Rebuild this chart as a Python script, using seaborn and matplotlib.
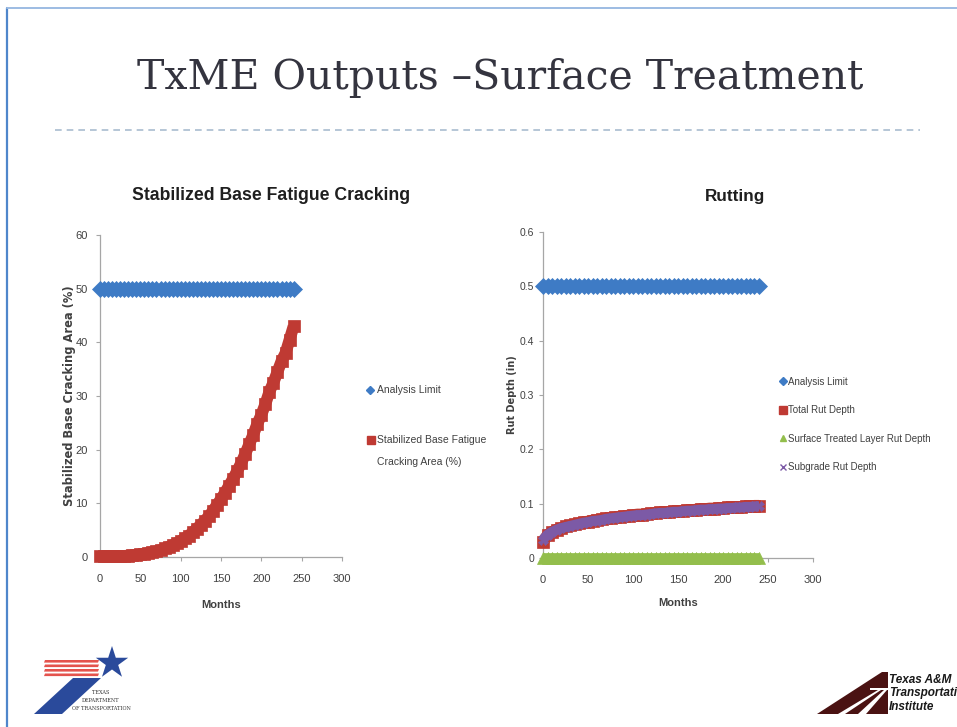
import numpy as np
import pandas as pd
import matplotlib
matplotlib.use("Agg")
import matplotlib.pyplot as plt
import seaborn as sns
from matplotlib.lines import Line2D
from matplotlib.patches import Polygon, Rectangle
from matplotlib.ticker import FuncFormatter

# ---------------- data ----------------
months = list(range(0, 241, 5))

analysis_limit_cracking = [50] * len(months)
stabilized_base_cracking = [
    0.1, 0.1, 0.1, 0.1, 0.1, 0.15, 0.2, 0.25, 0.3, 0.4,
    0.5, 0.6, 0.8, 0.9, 1.1, 1.3, 1.6, 1.9, 2.2, 2.6,
    3.0, 3.5, 4.0, 4.6, 5.3, 6.0, 6.8, 7.6, 8.6, 9.7,
    10.8, 12.0, 13.3, 14.6, 16.0, 17.5, 19.2, 21.0, 22.8, 24.8,
    26.5, 28.5, 30.8, 32.5, 34.5, 36.5, 38.0, 40.5, 43.0]

analysis_limit_rut = [0.5] * len(months)
total_rut_depth = [
    0.030, 0.042, 0.048, 0.052, 0.055, 0.058, 0.060, 0.062, 0.064, 0.066,
    0.067, 0.069, 0.070, 0.071, 0.073, 0.074, 0.075, 0.076, 0.077, 0.078,
    0.079, 0.080, 0.080, 0.081, 0.082, 0.083, 0.084, 0.084, 0.085, 0.086,
    0.086, 0.087, 0.088, 0.088, 0.089, 0.090, 0.090, 0.091, 0.091, 0.092,
    0.092, 0.093, 0.093, 0.094, 0.094, 0.095, 0.095, 0.096, 0.096]
surface_layer_rut_depth = [0.0] * len(months)
subgrade_rut_depth = [
    0.034, 0.043, 0.048, 0.052, 0.055, 0.057, 0.059, 0.061, 0.063, 0.065,
    0.066, 0.068, 0.069, 0.070, 0.072, 0.073, 0.074, 0.075, 0.076, 0.077,
    0.078, 0.079, 0.079, 0.080, 0.081, 0.082, 0.083, 0.083, 0.084, 0.085,
    0.085, 0.086, 0.087, 0.087, 0.088, 0.089, 0.089, 0.090, 0.090, 0.091,
    0.091, 0.092, 0.092, 0.093, 0.093, 0.094, 0.094, 0.095, 0.095]

x_ticks = [0, 50, 100, 150, 200, 250, 300]
y_ticks_left = [0, 10, 20, 30, 40, 50, 60]
y_ticks_right = [0, 0.1, 0.2, 0.3, 0.4, 0.5, 0.6]

# ---------------- style ----------------
sns.set_style("ticks")
plt.rcParams["font.family"] = ["Liberation Sans", "DejaVu Sans"]

BLUE = "#3E7BC5"
RED = "#BF3A33"
GREEN = "#93BE4C"
PURPLE = "#7C5AA6"
AXIS_GRAY = "#A6A6A6"
TXT = "#404040"

W, H = 957, 727
fig = plt.figure(figsize=(W / 100, H / 100), dpi=100)
fig.patch.set_facecolor("white")


def px_axes(l, t, r, b):
    return fig.add_axes([l / W, 1 - b / H, (r - l) / W, (b - t) / H])


# background decoration axes in pixel coordinates
bg = fig.add_axes([0, 0, 1, 1], zorder=-5)
bg.set_xlim(0, W)
bg.set_ylim(H, 0)
bg.axis("off")
bg.plot([7, 7], [8, H], color="#4F86CB", lw=1.6)
bg.plot([7, W], [8, 8], color="#9DBCE3", lw=1.4)
bg.plot([55, 920], [130, 130], color="#A9BCCF", lw=1.2, ls=(0, (4, 3)))

fig.text(500 / W, 1 - 78 / H, "TxME Outputs \u2013Surface Treatment",
         family=["DejaVu Serif"], fontsize=29.5, color="#34343F",
         ha="center", va="center")


def style_axes(ax, yticks, ymax, yfmt, ylabelsize=8, ypad=6):
    ax.set_xlim(0, 300)
    ax.set_ylim(0, ymax)
    ax.set_xticks(x_ticks)
    ax.set_yticks(yticks)
    ax.yaxis.set_major_formatter(FuncFormatter(yfmt))
    sns.despine(ax=ax)
    for s in ("left", "bottom"):
        ax.spines[s].set_color(AXIS_GRAY)
        ax.spines[s].set_linewidth(0.9)
    ax.tick_params(axis="both", length=3, width=0.8, color=AXIS_GRAY,
                   labelsize=8, labelcolor=TXT)
    ax.tick_params(axis="x", pad=9)
    ax.tick_params(axis="y", pad=ypad, labelsize=ylabelsize)
    ax.set_facecolor("none")


def band(ax, df, col, color, marker, lw, ms, z):
    sns.lineplot(data=df, x="Months", y=col, color=color, linewidth=lw,
                 marker=marker, markersize=ms, markeredgecolor=color,
                 markeredgewidth=0.5, solid_capstyle="butt", ax=ax,
                 legend=False, clip_on=False, zorder=z)


# ---------------- left chart ----------------
axL = px_axes(100, 235, 342, 557)
df_l = pd.DataFrame({"Months": months, "limit": analysis_limit_cracking,
                     "crack": stabilized_base_cracking})
band(axL, df_l, "limit", BLUE, "D", 7.2, 8, 3)
band(axL, df_l, "crack", RED, "s", 8.5, 8, 4)
style_axes(axL, y_ticks_left, 60, lambda v, p: f"{v:.0f}")
axL.set_xlabel("Months", fontsize=8, fontweight="bold", color=TXT)
axL.xaxis.set_label_coords(0.5, -(600 - 557) / 322)
axL.set_ylabel("Stabilized Base Cracking Area (%)", family=["DejaVu Sans"],
               fontsize=8.3, fontweight="bold", color=TXT)
axL.yaxis.set_label_coords(-(100 - 75.5) / 242, 0.5)
fig.text(271 / W, 1 - 196 / H, "Stabilized Base Fatigue Cracking",
         fontsize=12.7, fontweight="bold", color="#1F1F1F", ha="center", va="center")

# left legend (marker aligned with first line of the wrapped label)
bg.plot([370], [390], marker="D", ls="", color=BLUE, markersize=4.5)
bg.text(377, 390, "Analysis Limit", fontsize=7.5, color=TXT, va="center", ha="left")
bg.plot([370.5], [440], marker="s", ls="", color=RED, markersize=6)
bg.text(377, 440, "Stabilized Base Fatigue", fontsize=7.5, color=TXT,
        va="center", ha="left")
bg.text(377, 462, "Cracking Area (%)", fontsize=7.5, color=TXT,
        va="center", ha="left")

# ---------------- right chart ----------------
axR = px_axes(543, 232, 813, 558)
df_r = pd.DataFrame({"Months": months, "limit": analysis_limit_rut,
                     "total": total_rut_depth, "surface": surface_layer_rut_depth,
                     "subgrade": subgrade_rut_depth})
band(axR, df_r, "limit", BLUE, "D", 7.5, 8.5, 3)
band(axR, df_r, "total", RED, "s", 8.5, 8, 4)
band(axR, df_r, "surface", GREEN, "^", 7.0, 8, 4)
band(axR, df_r, "subgrade", PURPLE, "X", 7.2, 7, 5)
style_axes(axR, y_ticks_right, 0.6,
           lambda v, p: "0" if abs(v) < 1e-9 else f"{v:.1f}",
           ylabelsize=7.5, ypad=3.5)
axR.set_xlabel("Months", fontsize=8, fontweight="bold", color=TXT)
axR.xaxis.set_label_coords(0.5, -(598 - 558) / 326)
axR.set_ylabel("Rut Depth (in)", family=["DejaVu Sans"], fontsize=7,
               fontweight="bold", color=TXT)
axR.yaxis.set_label_coords(-(543 - 517) / 270, 0.5)
fig.text(735 / W, 1 - 196 / H, "Rutting", fontsize=12.3, fontweight="bold",
         color="#1F1F1F", ha="center", va="center")

hR = [Line2D([], [], marker="D", ls="", color=BLUE, markersize=4),
      Line2D([], [], marker="s", ls="", color=RED, markersize=5.5),
      Line2D([], [], marker="^", ls="", color=GREEN, markersize=5),
      Line2D([], [], marker="x", ls="", color=PURPLE, markersize=5)]
axR.legend(hR, ["Analysis Limit", "Total Rut Depth",
                "Surface Treated Layer Rut Depth", "Subgrade Rut Depth"],
           loc="upper left", bbox_to_anchor=(776 / W, 1 - 373 / H),
           bbox_transform=fig.transFigure, frameon=False, fontsize=7,
           handlelength=0.6, handletextpad=0.2, labelspacing=1.9,
           borderaxespad=0, labelcolor=TXT)

# ---------------- logos (approximate) ----------------
# TxDOT
for i, yy in enumerate([660, 664.5, 669, 673.5]):
    bg.add_patch(Polygon([[45, yy], [99, yy], [98, yy + 2.6], [44, yy + 2.6]],
                         closed=True, color="#E0352E", lw=0, alpha=0.85))
bg.add_patch(Polygon([[73, 678], [101, 678], [62, 714], [34, 714]],
                     closed=True, color="#2A4A9B", lw=0))
ang = np.linspace(np.pi / 2, np.pi / 2 + 2 * np.pi, 11)[:-1]
rad = np.where(np.arange(10) % 2 == 0, 17, 6.5)
star = np.column_stack([112 + rad * np.cos(ang), 663 - rad * np.sin(ang)])
bg.add_patch(Polygon(star, closed=True, color="#2A4A9B", lw=0))
for yy, t in [(693, "TEXAS"), (701, "DEPARTMENT"), (709, "OF TRANSPORTATION")]:
    bg.text(101, yy, t, family=["DejaVu Serif"],
            fontsize=3.6, color="#333333", va="center", ha="center")

# TTI
bg.add_patch(Polygon([[817, 714], [882, 672], [888, 672], [888, 714]],
                     closed=True, color="#4A1212", lw=0))
bg.add_patch(Polygon([[838, 714], [878, 690], [881, 690], [845, 714]],
                     closed=True, color="white", lw=0))
bg.add_patch(Polygon([[858, 714], [884, 690], [887, 690], [866, 714]],
                     closed=True, color="white", lw=0))
bg.add_patch(Rectangle((870, 688), 18, 2.2, color="white", lw=0))
for yy, t in [(680, "Texas A&M"), (693, "Transportation"), (707, "Institute")]:
    bg.text(889, yy, t, fontsize=8.5, fontweight="bold", style="italic",
            color="#1A1A1A", va="center", ha="left")

fig.savefig("out.png", dpi=100)
